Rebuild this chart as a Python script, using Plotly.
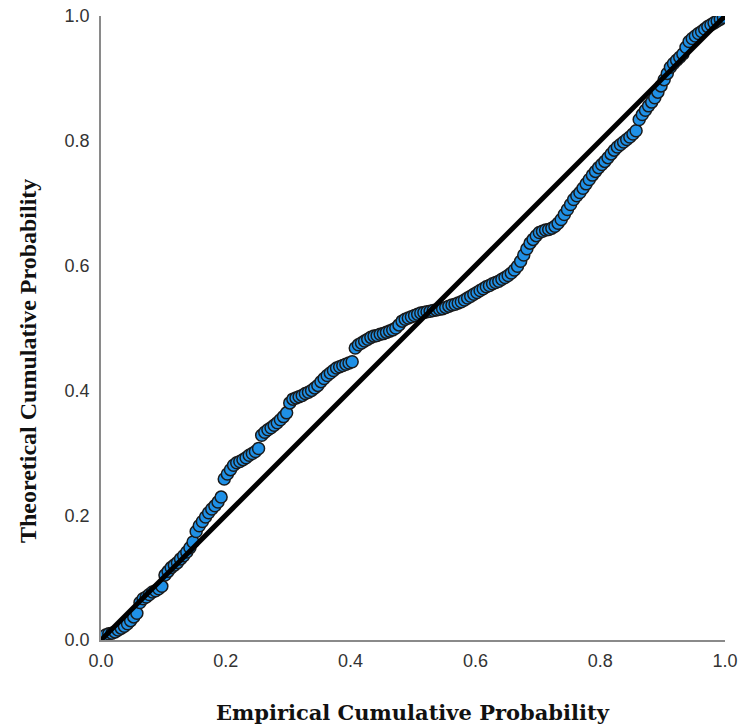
import plotly.graph_objects as go

empirical = [
    0.0025, 0.0075, 0.0125, 0.0175, 0.0225, 0.0275, 0.0325, 0.0375, 0.0425, 0.0475,
    0.0525, 0.0575, 0.0625, 0.0675, 0.0725, 0.0775, 0.0825, 0.0875, 0.0925, 0.0975,
    0.1025, 0.1075, 0.1125, 0.1175, 0.1225, 0.1275, 0.1325, 0.1375, 0.1425, 0.1475,
    0.1525, 0.1575, 0.1625, 0.1675, 0.1725, 0.1775, 0.1825, 0.1875, 0.1925, 0.1975,
    0.2025, 0.2075, 0.2125, 0.2175, 0.2225, 0.2275, 0.2325, 0.2375, 0.2425, 0.2475,
    0.2525, 0.2575, 0.2625, 0.2675, 0.2725, 0.2775, 0.2825, 0.2875, 0.2925, 0.2975,
    0.3025, 0.3075, 0.3125, 0.3175, 0.3225, 0.3275, 0.3325, 0.3375, 0.3425, 0.3475,
    0.3525, 0.3575, 0.3625, 0.3675, 0.3725, 0.3775, 0.3825, 0.3875, 0.3925, 0.3975,
    0.4025, 0.4075, 0.4125, 0.4175, 0.4225, 0.4275, 0.4325, 0.4375, 0.4425, 0.4475,
    0.4525, 0.4575, 0.4625, 0.4675, 0.4725, 0.4775, 0.4825, 0.4875, 0.4925, 0.4975,
    0.5025, 0.5075, 0.5125, 0.5175, 0.5225, 0.5275, 0.5325, 0.5375, 0.5425, 0.5475,
    0.5525, 0.5575, 0.5625, 0.5675, 0.5725, 0.5775, 0.5825, 0.5875, 0.5925, 0.5975,
    0.6025, 0.6075, 0.6125, 0.6175, 0.6225, 0.6275, 0.6325, 0.6375, 0.6425, 0.6475,
    0.6525, 0.6575, 0.6625, 0.6675, 0.6725, 0.6775, 0.6825, 0.6875, 0.6925, 0.6975,
    0.7025, 0.7075, 0.7125, 0.7175, 0.7225, 0.7275, 0.7325, 0.7375, 0.7425, 0.7475,
    0.7525, 0.7575, 0.7625, 0.7675, 0.7725, 0.7775, 0.7825, 0.7875, 0.7925, 0.7975,
    0.8025, 0.8075, 0.8125, 0.8175, 0.8225, 0.8275, 0.8325, 0.8375, 0.8425, 0.8475,
    0.8525, 0.8575, 0.8625, 0.8675, 0.8725, 0.8775, 0.8825, 0.8875, 0.8925, 0.8975,
    0.9025, 0.9075, 0.9125, 0.9175, 0.9225, 0.9275, 0.9325, 0.9375, 0.9425, 0.9475,
    0.9525, 0.9575, 0.9625, 0.9675, 0.9725, 0.9775, 0.9825, 0.9875, 0.9925, 0.9975,
]

theoretical = [
    0.004, 0.008, 0.010, 0.011, 0.013, 0.016, 0.019, 0.022, 0.026, 0.031,
    0.037, 0.043, 0.060, 0.066, 0.069, 0.073, 0.077, 0.079, 0.082, 0.086,
    0.104, 0.110, 0.116, 0.120, 0.124, 0.130, 0.135, 0.141, 0.148, 0.157,
    0.174, 0.183, 0.190, 0.197, 0.204, 0.210, 0.215, 0.221, 0.229, 0.258,
    0.266, 0.273, 0.280, 0.284, 0.286, 0.289, 0.292, 0.296, 0.299, 0.302,
    0.307, 0.328, 0.333, 0.337, 0.340, 0.344, 0.348, 0.353, 0.358, 0.364,
    0.380, 0.386, 0.388, 0.390, 0.392, 0.395, 0.397, 0.400, 0.404, 0.408,
    0.414, 0.419, 0.424, 0.428, 0.432, 0.436, 0.438, 0.440, 0.442, 0.444,
    0.446, 0.468, 0.473, 0.476, 0.479, 0.482, 0.485, 0.487, 0.488, 0.490,
    0.491, 0.493, 0.495, 0.497, 0.500, 0.505, 0.511, 0.514, 0.516, 0.518,
    0.520, 0.522, 0.524, 0.525, 0.526, 0.527, 0.528, 0.529, 0.530, 0.531,
    0.533, 0.535, 0.537, 0.538, 0.540, 0.542, 0.545, 0.548, 0.551, 0.554,
    0.557, 0.560, 0.563, 0.566, 0.568, 0.571, 0.573, 0.575, 0.578, 0.581,
    0.584, 0.588, 0.593, 0.599, 0.607, 0.617, 0.627, 0.636, 0.642, 0.648,
    0.653, 0.655, 0.657, 0.658, 0.660, 0.663, 0.668, 0.674, 0.682, 0.690,
    0.698, 0.706, 0.712, 0.717, 0.724, 0.731, 0.738, 0.745, 0.751, 0.757,
    0.762, 0.767, 0.773, 0.779, 0.785, 0.790, 0.794, 0.798, 0.802, 0.806,
    0.811, 0.816, 0.834, 0.842, 0.849, 0.856, 0.862, 0.869, 0.878, 0.888,
    0.898, 0.908, 0.918, 0.924, 0.929, 0.934, 0.939, 0.950, 0.959, 0.964,
    0.968, 0.972, 0.975, 0.979, 0.983, 0.986, 0.989, 0.992, 0.995, 0.998,
]

ref_line_x = [0.0, 1.0]
ref_line_y = [0.0, 1.0]

tick_vals = [0.0, 0.2, 0.4, 0.6, 0.8, 1.0]
tick_text = ["0.0", "0.2", "0.4", "0.6", "0.8", "1.0"]

x_title = "Empirical Cumulative Probability"
y_title = "Theoretical Cumulative Probability"

fig = go.Figure()
fig.add_trace(go.Scatter(
    x=empirical, y=theoretical, mode="markers",
    marker=dict(size=12, color="#1f90e6", line=dict(color="#1a1a1a", width=1.5)),
    showlegend=False, hoverinfo="skip",
))
fig.add_trace(go.Scatter(
    x=ref_line_x, y=ref_line_y, mode="lines",
    line=dict(color="#000000", width=5),
    showlegend=False, hoverinfo="skip",
))

axis_common = dict(
    range=[0, 1], tickvals=tick_vals, ticktext=tick_text,
    showgrid=False, zeroline=False, showline=True, automargin=False,
    linecolor="#8a8a8a", linewidth=1.5, ticks="",
    tickfont=dict(family="Liberation Sans, Arial, sans-serif", size=18, color="#333333"),
    fixedrange=True,
)

fig.update_layout(
    width=741, height=725,
    margin=dict(l=101, r=16, t=16, b=85),
    paper_bgcolor="white", plot_bgcolor="white",
    xaxis=dict(**axis_common, ticklabelstandoff=4),
    yaxis=dict(**axis_common, ticklabelstandoff=6),
    annotations=[
        dict(text=x_title, xref="paper", yref="paper", x=0.5, y=0,
             xanchor="center", yanchor="middle", yshift=-72, showarrow=False,
             font=dict(family="DejaVu Serif, serif", size=21, color="#111111", weight="bold")),
        dict(text=y_title, xref="paper", yref="paper", x=0, y=0.447,
             xanchor="center", yanchor="middle", xshift=-73, showarrow=False, textangle=-90,
             font=dict(family="Liberation Serif, serif", size=24, color="#111111", weight="bold")),
    ],
)

fig.write_html(
    "out.html",
    config={"displayModeBar": False},
    post_script="document.body.style.margin='0';document.body.style.overflow='hidden';",
)
